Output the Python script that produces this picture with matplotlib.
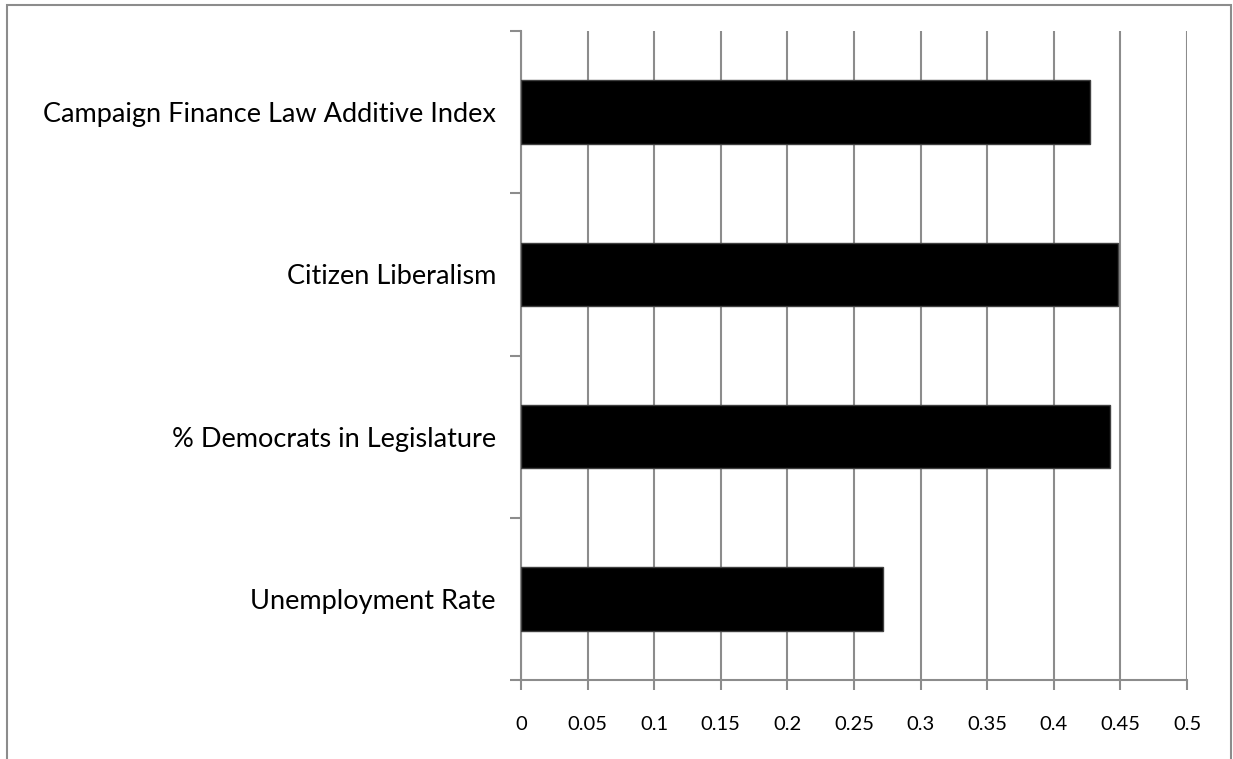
import matplotlib.pyplot as plt
from matplotlib.patches import Rectangle
from matplotlib.ticker import FixedLocator, NullFormatter

plt.rcParams['font.family'] = ['Lato', 'DejaVu Sans']

categories = ["Campaign Finance Law Additive Index", "Citizen Liberalism",
              "% Democrats in Legislature", "Unemployment Rate"]
values = [0.427, 0.448, 0.442, 0.272]
xticks = [0, 0.05, 0.1, 0.15, 0.2, 0.25, 0.3, 0.35, 0.4, 0.45, 0.5]
xtick_labels = ["0", "0.05", "0.1", "0.15", "0.2", "0.25", "0.3", "0.35", "0.4", "0.45", "0.5"]

fig = plt.figure(figsize=(12.33, 7.59), dpi=100)
ax = fig.add_axes([521 / 1233, 1 - 680 / 759, (1187 - 521) / 1233, (680 - 31) / 759])

# outer chart border (bottom edge runs off the picture)
fig.patches.append(Rectangle((7 / 1233, -0.05), (1231 - 7) / 1233, 1.05 - 5 / 759,
                             transform=fig.transFigure, fill=False,
                             edgecolor="#8c8c8c", linewidth=1.5, zorder=0))

pos = list(range(len(categories)))
ax.barh(pos, values, height=0.39, color="black", edgecolor="#404040", linewidth=1, zorder=3)

ax.set_xlim(0, 0.5)
ax.set_ylim(len(categories) - 0.5, -0.5)
ax.set_xticks(xticks)
ax.set_xticklabels(xtick_labels, fontsize=14.5)
ax.xaxis.grid(True, color="#8c8c8c", linewidth=1.5, zorder=0)

# y ticks at the category boundaries, labels at the centers
ax.yaxis.set_major_locator(FixedLocator([p - 0.5 for p in pos] + [len(pos) - 0.5]))
ax.yaxis.set_major_formatter(NullFormatter())
ax.yaxis.set_minor_locator(FixedLocator(pos))
ax.set_yticklabels(categories, minor=True, fontsize=19.5)
ax.tick_params(axis="y", which="minor", length=0, pad=18)
ax.tick_params(axis="y", which="major", length=8, width=1.5, color="#8c8c8c")
ax.tick_params(axis="x", length=7, width=1.5, color="#8c8c8c", pad=19)

for s in ["top", "right"]:
    ax.spines[s].set_visible(False)
for s in ["left", "bottom"]:
    ax.spines[s].set_color("#8c8c8c")
    ax.spines[s].set_linewidth(1.5)

fig.savefig("out.png", dpi=100)
